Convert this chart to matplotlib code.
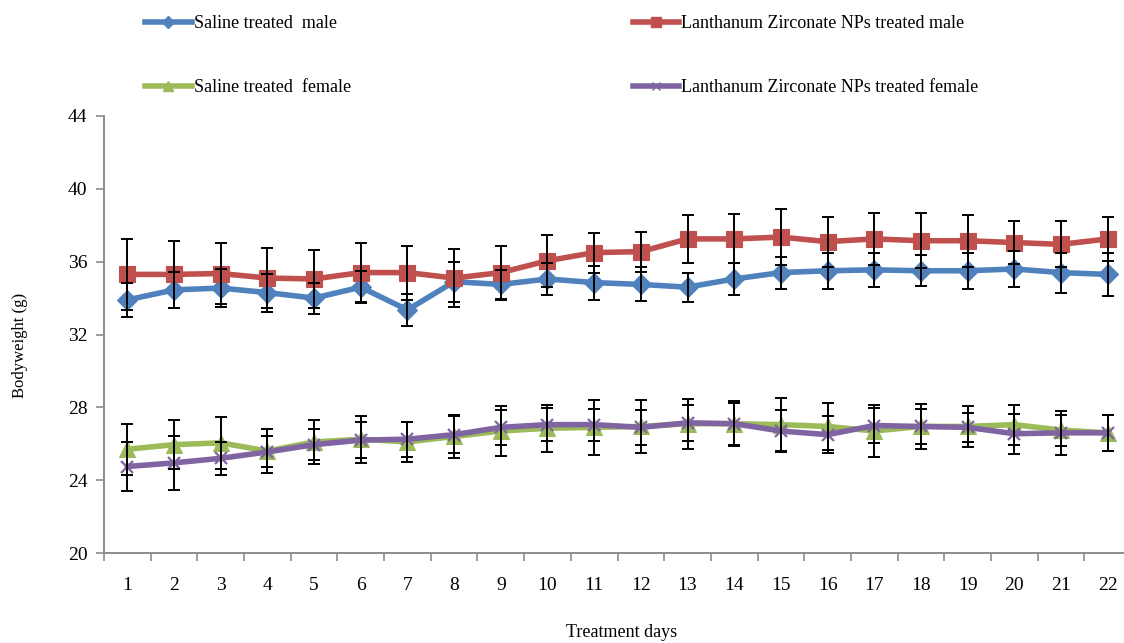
import matplotlib

matplotlib.use("Agg")
import matplotlib.pyplot as plt
from matplotlib.lines import Line2D
from matplotlib.ticker import FixedLocator, NullFormatter

# ---------------------------------------------------------------------------
# Data
# ---------------------------------------------------------------------------

DAYS = list(range(1, 23))

saline_male = [33.9, 34.45, 34.55, 34.3, 34.0, 34.6, 33.35, 34.9, 34.75, 35.05, 34.85,
               34.75, 34.6, 35.05, 35.4, 35.5, 35.55, 35.5, 35.5, 35.6, 35.4, 35.3]
saline_male_err = [0.93, 1.0, 1.05, 1.04, 0.85, 0.88, 0.9, 1.1, 0.8, 0.88, 0.93,
                   0.93, 0.8, 0.88, 0.88, 0.99, 0.93, 0.85, 0.99, 0.99, 1.1, 1.2]

lz_male = [35.3, 35.3, 35.35, 35.1, 35.05, 35.4, 35.4, 35.1, 35.4, 36.05, 36.5,
           36.55, 37.25, 37.25, 37.35, 37.1, 37.25, 37.15, 37.15, 37.05, 36.95, 37.25]
lz_male_err = [1.95, 1.85, 1.65, 1.65, 1.6, 1.6, 1.48, 1.6, 1.48, 1.43, 1.1,
               1.1, 1.32, 1.35, 1.54, 1.37, 1.43, 1.5, 1.43, 1.2, 1.26, 1.2]

saline_female = [25.7, 25.95, 26.05, 25.6, 26.1, 26.25, 26.1, 26.4, 26.7, 26.85, 26.9,
                 26.95, 27.1, 27.1, 27.05, 26.95, 26.7, 26.95, 26.95, 27.05, 26.75, 26.6]
saline_female_err = [1.4, 1.33, 1.43, 1.2, 1.2, 1.3, 1.1, 1.2, 1.35, 1.3, 1.5,
                     1.45, 1.37, 1.25, 1.46, 1.28, 1.45, 1.26, 1.15, 1.1, 0.85, 1.0]

lz_female = [24.75, 24.95, 25.2, 25.55, 25.95, 26.2, 26.25, 26.5, 26.9, 27.05, 27.05,
             26.9, 27.15, 27.1, 26.7, 26.5, 27.0, 26.95, 26.9, 26.55, 26.6, 26.6]
lz_female_err = [1.37, 1.5, 0.92, 0.85, 0.85, 1.0, 0.97, 1.0, 0.95, 0.9, 0.88,
                 0.95, 1.0, 1.15, 1.15, 1.0, 0.95, 0.95, 0.8, 1.1, 1.2, 1.0]

Y_TICKS = [20, 24, 28, 32, 36, 40, 44]

SERIES = [
    ("Saline treated  male", saline_male, saline_male_err, "#4F81BD", "D", 10),
    ("Lanthanum Zirconate NPs treated male", lz_male, lz_male_err, "#C0504D", "s", 12),
    ("Saline treated  female", saline_female, saline_female_err, "#9BBB59", "^", 11),
    ("Lanthanum Zirconate NPs treated female", lz_female, lz_female_err, "#8064A2", "x", 9),
]

SERIF = "Liberation Serif"
AXIS_GREY = "#8C8C8C"

# ---------------------------------------------------------------------------
# Figure
# ---------------------------------------------------------------------------

fig = plt.figure(figsize=(11.24, 6.43), dpi=100)
fig.patch.set_facecolor("white")
ax = fig.add_axes([104 / 1124, 1 - 553 / 643, 1027 / 1124, (553 - 116) / 643])

handles = {}
for label, vals, errs, color, marker, ms in SERIES:
    ax.plot(DAYS, vals, color=color, linewidth=4, marker=marker,
            markersize=ms, markerfacecolor=color, markeredgecolor=color,
            markeredgewidth=1.6 if marker == "x" else 0.8, zorder=3)
    ax.errorbar(DAYS, vals, yerr=errs, fmt="none", ecolor="black",
                elinewidth=1.4, capsize=4.5, capthick=1.4, zorder=4)
    handles[label] = Line2D([], [], color=color, linewidth=4, marker=marker,
                            markersize=ms * 0.65, markerfacecolor=color,
                            markeredgecolor=color)

ax.set_ylim(20, 44)
ax.set_xlim(0.5, 22.5)
ax.set_yticks(Y_TICKS)
ax.set_yticklabels([str(t) for t in Y_TICKS], fontsize=14, family=SERIF)

# category axis: tick marks between categories, labels at centres
ax.xaxis.set_major_locator(FixedLocator([d + 0.5 for d in range(0, 23)]))
ax.xaxis.set_major_formatter(NullFormatter())
ax.xaxis.set_minor_locator(FixedLocator(DAYS))
ax.set_xticklabels([str(d) for d in DAYS], minor=True, fontsize=14, family=SERIF)
ax.tick_params(axis="x", which="major", length=6, width=1.2, color=AXIS_GREY, direction="out")
ax.tick_params(axis="x", which="minor", length=0, pad=17)
ax.tick_params(axis="y", length=6, width=1.2, color=AXIS_GREY, direction="out", pad=6)

for side in ("top", "right"):
    ax.spines[side].set_visible(False)
for side in ("left", "bottom"):
    ax.spines[side].set_color(AXIS_GREY)
    ax.spines[side].set_linewidth(1.4)

fig.text(20 / 1124, 1 - 345 / 643, "Bodyweight (g)", rotation=90, ha="center",
         va="center", fontsize=12, family=SERIF)
fig.text(622 / 1124, 1 - 624 / 643, "Treatment days", ha="center", va="top",
         fontsize=13, family=SERIF)

order = [SERIES[0][0], SERIES[2][0], SERIES[1][0], SERIES[3][0]]
fig.legend([handles[k] for k in order], order, ncol=2, frameon=False,
           loc="upper left", bbox_to_anchor=(145 / 1124, 1 - 15 / 643),
           prop={"family": SERIF, "size": 13}, handlelength=2.6,
           handletextpad=0.1, labelspacing=2.6, columnspacing=15.6,
           borderpad=0, borderaxespad=0)

fig.savefig("out.png", dpi=100, facecolor="white")
